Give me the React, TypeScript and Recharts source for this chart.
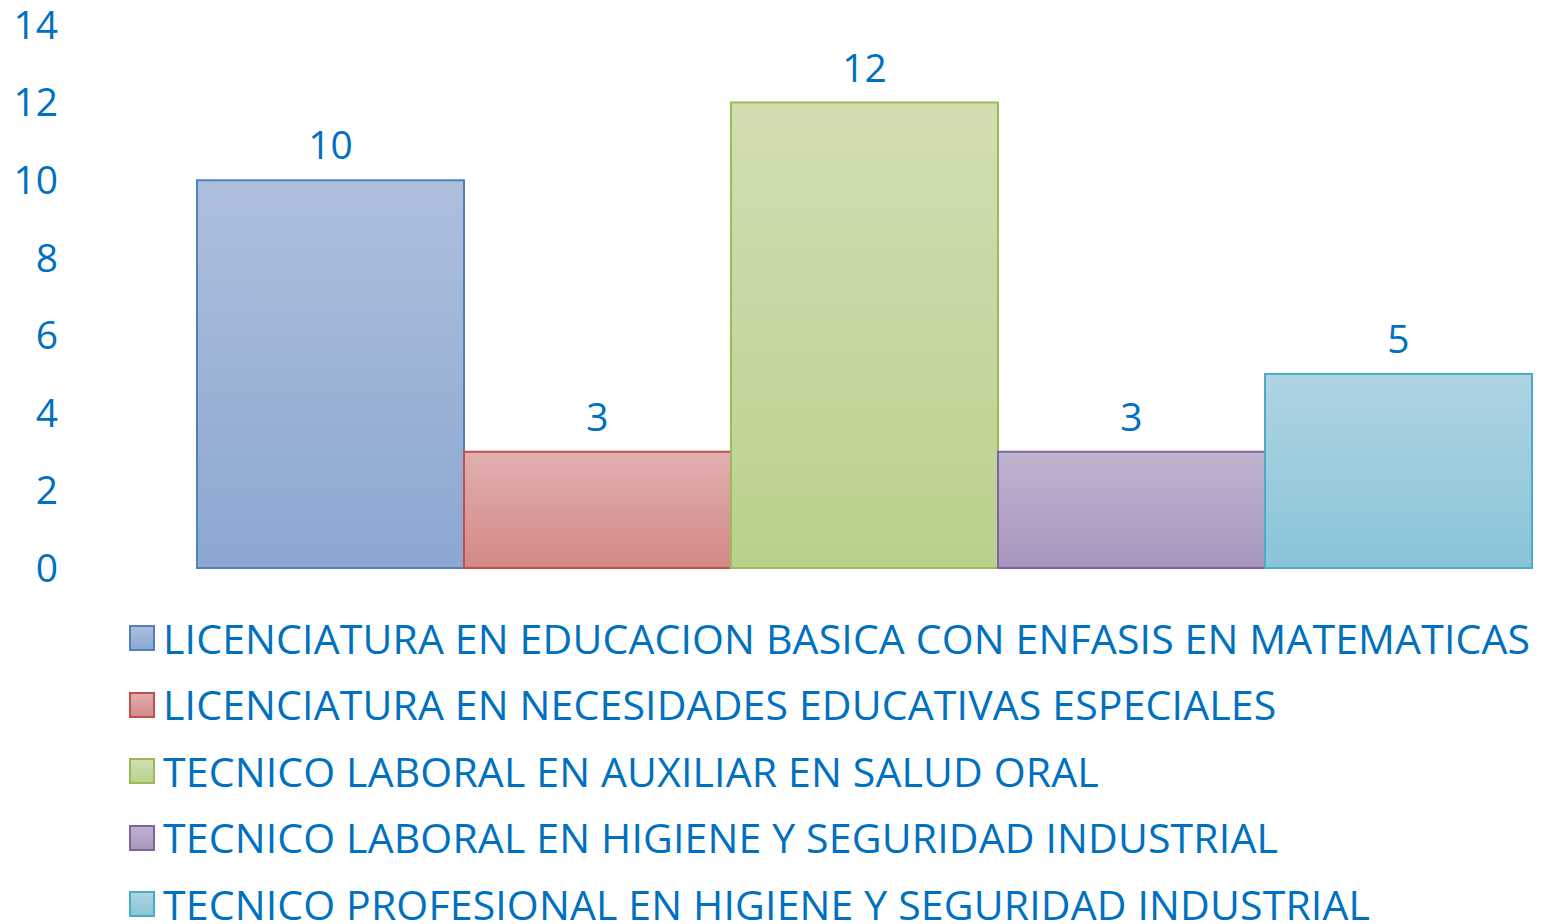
import React from 'react';
import { BarChart, Bar, XAxis, YAxis, LabelList, Legend } from 'recharts';

// series (one bar each, one shared category)
const programs = [
  'LICENCIATURA EN EDUCACION BASICA CON ENFASIS EN MATEMATICAS',
  'LICENCIATURA EN NECESIDADES EDUCATIVAS ESPECIALES',
  'TECNICO LABORAL EN AUXILIAR EN SALUD ORAL',
  'TECNICO LABORAL EN HIGIENE Y SEGURIDAD INDUSTRIAL',
  'TECNICO PROFESIONAL EN HIGIENE Y SEGURIDAD INDUSTRIAL',
];
const students = [10, 3, 12, 3, 5];
const yTicks = [0, 2, 4, 6, 8, 10, 12, 14];

const keys = ['s0', 's1', 's2', 's3', 's4'];
const palette = [
  { top: '#aebfdd', bottom: '#8ba7d2', line: '#4f81bd' },
  { top: '#e0b0af', bottom: '#d38886', line: '#c0504d' },
  { top: '#d1deb2', bottom: '#bad18d', line: '#9bbb59' },
  { top: '#bfb5cf', bottom: '#a795bd', line: '#8064a2' },
  { top: '#afd4e3', bottom: '#89c4d8', line: '#4bacc6' },
];

const row: Record<string, string | number> = { name: '' };
keys.forEach((k, i) => (row[k] = students[i]));
const data = [row];

const TEXT = '#0070c0';
const FONT = '"Open Sans", "Noto Sans", sans-serif';

const LegendBox = () => (
  <div style={{ fontFamily: FONT }}>
    {programs.map((p, i) => (
      <div key={p} style={{ display: 'flex', alignItems: 'center', height: 66.5 }}>
        <svg width={26} height={26} style={{ marginRight: 8 }}>
          <defs>
            <linearGradient id={`lg${i}`} x1="0" y1="0" x2="0" y2="1">
              <stop offset="0%" stopColor={palette[i].top} />
              <stop offset="100%" stopColor={palette[i].bottom} />
            </linearGradient>
          </defs>
          <rect x={1} y={1} width={24} height={24} fill={`url(#lg${i})`} stroke={palette[i].line} strokeWidth={2} />
        </svg>
        <span style={{ color: TEXT, fontSize: 41, letterSpacing: 0.15, whiteSpace: 'nowrap', lineHeight: 1 }}>{p}</span>
      </div>
    ))}
  </div>
);

export default function App() {
  return (
    <div style={{ position: 'fixed', left: 0, top: 0, background: '#fff' }}>
      <BarChart
        width={1542}
        height={924}
        data={data}
        margin={{ top: 25, right: 11, bottom: 356, left: 0 }}
        barCategoryGap={0}
        barGap={0}
      >
        <defs>
          {palette.map((c, i) => (
            <linearGradient key={i} id={`g${i}`} x1="0" y1="0" x2="0" y2="1">
              <stop offset="0%" stopColor={c.top} />
              <stop offset="100%" stopColor={c.bottom} />
            </linearGradient>
          ))}
        </defs>
        <XAxis dataKey="name" tick={false} tickLine={false} height={0} axisLine={{ stroke: '#d9d9d9', strokeWidth: 2 }} />
        <YAxis
          width={197}
          domain={[0, 14]}
          ticks={yTicks}
          axisLine={false}
          tickLine={false}
          tickMargin={133}
          tick={{ fill: TEXT, fontSize: 39, fontFamily: FONT }}
        />
        {keys.map((k, i) => (
          <Bar
            key={k}
            dataKey={k}
            name={programs[i]}
            fill={`url(#g${i})`}
            stroke={palette[i].line}
            strokeWidth={2}
            isAnimationActive={false}
          >
            <LabelList dataKey={k} position="top" offset={21} fill={TEXT} fontSize={39} fontFamily={FONT} />
          </Bar>
        ))}
        <Legend
          layout="vertical"
          align="center"
          verticalAlign="middle"
          wrapperStyle={{ left: 129, top: 605, width: 1413, height: 319, overflow: 'hidden' }}
          content={() => <LegendBox />}
        />
      </BarChart>
    </div>
  );
}
